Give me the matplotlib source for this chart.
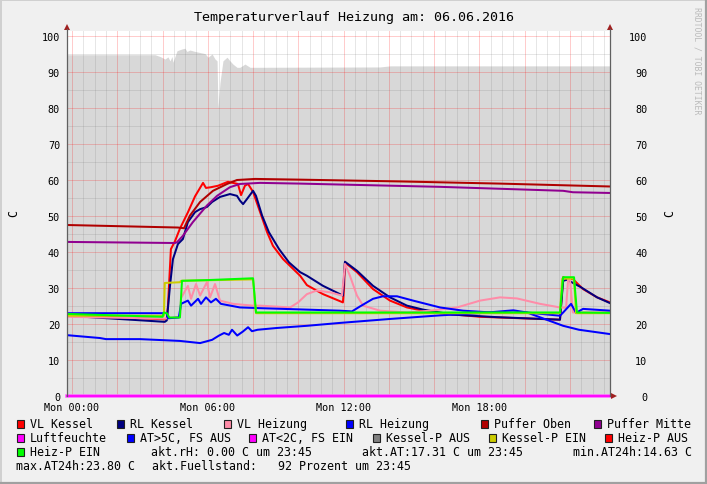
import matplotlib
matplotlib.use('Agg')
import matplotlib.pyplot as plt
from matplotlib.patches import Rectangle, Polygon
from matplotlib.lines import Line2D

# ---------------- data (hours since Mon 00:00) ----------------
title = "Temperaturverlauf Heizung am: 06.06.2016"
x_tick_pos = [0, 6, 12, 18]
x_tick_labels = ["Mon 00:00", "Mon 06:00", "Mon 12:00", "Mon 18:00"]
y_ticks = [0, 10, 20, 30, 40, 50, 60, 70, 80, 90, 100]

fuell_t = [-0.22, 3.67, 3.89, 4.11, 4.24, 4.33, 4.42, 4.46, 4.64, 4.86, 4.99, 5.08, 5.21,
           5.44, 5.66, 5.88, 6.01, 6.19, 6.32, 6.41, 6.45, 6.54, 6.67, 6.85, 6.98, 7.11,
           7.29, 7.42, 7.64, 7.87, 13.61, 14.05, 23.77]
fuell_v = [94.8, 94.8, 94.3, 93.6, 94.2, 93.1, 94.3, 92.7, 95.9, 96.4, 96.6, 95.7, 96.1,
           95.7, 95.4, 95.1, 94.1, 95.0, 93.6, 93.1, 80.0, 87.1, 93.1, 94.1, 93.1, 92.2,
           91.3, 91.3, 92.2, 91.3, 91.4, 91.7, 91.7]

vlk_t = [-0.22, 4.10, 4.19, 4.24, 4.37, 4.55, 4.77, 5.12, 5.44, 5.79, 5.92, 6.14, 6.45,
         6.89, 7.33, 7.47, 7.64, 7.78, 8.00, 8.31, 8.62, 8.88, 9.33, 9.77, 10.08, 10.38,
         11.09, 11.97, 12.02, 12.06, 12.59, 13.30, 14.05, 14.80, 15.51, 16.26, 18.03,
         21.56, 21.70, 21.87, 22.13, 22.58, 23.20, 23.77]
vlk_v = [22.5, 21.3, 21.5, 25.0, 40.8, 43.0, 46.5, 51.0, 55.5, 59.2, 57.8, 58.0, 58.4,
         59.5, 58.9, 55.8, 58.4, 58.9, 56.7, 51.1, 45.5, 41.7, 38.0, 35.3, 33.4, 30.8,
         28.3, 26.0, 30.0, 37.1, 34.4, 29.7, 26.5, 24.6, 23.7, 23.0, 22.0,
         21.2, 33.0, 32.5, 32.5, 29.7, 27.4, 26.0]

rlk_t = [-0.22, 4.10, 4.19, 4.33, 4.46, 4.68, 4.90, 5.12, 5.44, 5.66, 5.96, 6.19, 6.54,
         6.98, 7.29, 7.42, 7.56, 7.73, 8.00, 8.13, 8.40, 8.70, 9.15, 9.59, 10.08, 10.38,
         11.09, 11.97, 12.06, 12.59, 13.30, 14.05, 14.80, 15.51, 16.26, 16.80, 18.78,
         21.56, 21.70, 21.87, 22.49, 23.20, 23.77]
rlk_v = [22.3, 20.6, 21.0, 30.6, 38.0, 42.2, 43.6, 48.3, 51.1, 51.9, 52.5, 53.9, 55.3,
         56.1, 55.6, 54.3, 53.3, 54.7, 57.0, 55.6, 50.1, 45.5, 40.8, 37.1, 34.4, 33.4,
         30.6, 27.9, 37.3, 34.8, 30.6, 27.4, 25.1, 24.0, 23.2, 22.6, 21.9,
         21.2, 32.0, 32.3, 30.2, 27.4, 25.8]

vlh_t = [-0.22, 4.10, 4.77, 4.82, 5.12, 5.26, 5.48, 5.66, 5.96, 6.10, 6.32, 6.54, 7.11,
         8.00, 8.31, 9.64, 9.99, 10.38, 10.82, 11.40, 11.93, 12.06, 12.28, 12.59, 12.86,
         13.61, 14.80, 15.82, 17.01, 18.03, 18.91, 19.66, 20.68, 21.56, 21.83, 21.92,
         22.00, 22.13, 23.77]
vlh_v = [22.0, 21.5, 22.0, 27.2, 30.6, 27.0, 31.1, 27.9, 31.6, 27.4, 31.1, 26.5, 25.6,
         25.1, 25.1, 24.6, 26.0, 28.3, 29.3, 28.8, 27.9, 36.7, 33.4, 27.9, 25.1,
         23.7, 23.2, 23.7, 24.6, 26.5, 27.4, 27.1, 25.6, 24.6, 24.5, 32.5,
         32.5, 23.2, 23.3]

rlh_t = [-0.22, 4.19, 4.24, 4.72, 4.82, 5.12, 5.26, 5.57, 5.70, 5.92, 6.14, 6.36, 6.58,
         7.42, 8.31, 11.84, 12.37, 12.73, 13.30, 13.74, 14.36, 15.07, 16.26, 17.28,
         18.78, 20.10, 21.56, 21.70, 22.05, 22.27, 22.58, 23.77]
rlh_v = [23.0, 23.0, 21.6, 21.8, 25.6, 26.5, 25.1, 27.0, 25.6, 27.4, 26.0, 27.0, 25.6,
         24.6, 24.4, 23.7, 23.5, 24.9, 27.0, 27.7, 27.7, 26.5, 24.6, 23.7,
         23.1, 23.2, 22.3, 23.2, 25.6, 23.1, 24.2, 23.7]

pob_t = [-0.22, 4.68, 4.95, 5.21, 5.66, 6.23, 6.85, 7.29, 8.09, 10.07, 14.50, 18.90, 23.77]
pob_v = [47.5, 46.8, 46.6, 50.1, 53.9, 57.0, 58.9, 60.0, 60.3, 60.1, 59.6, 59.0, 58.2]

pmi_t = [-0.22, 4.55, 4.64, 4.90, 5.34, 5.96, 6.41, 6.98, 7.42, 8.31, 10.07, 16.26, 21.70,
         22.13, 23.77]
pmi_v = [42.8, 42.5, 42.7, 44.5, 48.3, 52.9, 55.6, 58.0, 58.9, 59.2, 59.0, 58.1, 57.0,
         56.6, 56.4]

rh_t = [-0.22, 23.77]
rh_v = [0.0, 0.0]

at_t = [-0.22, 1.24, 1.50, 3.00, 4.77, 5.66, 6.19, 6.50, 6.72, 6.93, 7.07, 7.30, 7.55,
        7.78, 7.95, 8.20, 9.06, 10.38, 11.84, 14.05, 16.26, 18.00, 19.50, 20.10, 21.70,
        22.40, 23.20, 23.77]
at_v = [16.9, 16.1, 15.8, 15.8, 15.3, 14.7, 15.6, 16.8, 17.5, 17.0, 18.4, 16.8, 17.9,
        19.1, 18.0, 18.4, 18.9, 19.5, 20.3, 21.4, 22.4, 23.0, 23.8, 23.2, 19.5,
        18.4, 17.7, 17.2]

kpe_t = [-0.22, 4.06, 4.10, 4.77, 4.82, 8.00, 8.13, 21.56, 21.66, 22.18, 22.27, 23.77]
kpe_v = [22.3, 22.3, 31.4, 31.6, 32.0, 32.4, 23.0, 23.0, 32.6, 32.6, 23.0, 23.0]

hpe_t = [-0.22, 4.00, 4.06, 4.19, 4.30, 4.77, 4.86, 6.00, 8.00, 8.13, 21.56, 21.70,
         22.18, 22.31, 23.77]
hpe_v = [22.8, 22.0, 23.2, 23.0, 21.8, 21.8, 32.0, 32.2, 32.7, 23.2, 23.2, 33.0,
         33.0, 23.2, 23.1]

legend_rows = [
    [("VL Kessel", "#FF0000"), ("RL Kessel", "#000080"), ("VL Heizung", "#FF8CA8"),
     ("RL Heizung", "#0000FF"), ("Puffer Oben", "#B00000"), ("Puffer Mitte", "#900090")],
    [("Luftfeuchte", "#FF00FF"), ("AT>5C, FS AUS", "#0000FF"), ("AT<2C, FS EIN", "#FF00FF"),
     ("Kessel-P AUS", "#808080"), ("Kessel-P EIN", "#CCCC00"), ("Heiz-P AUS", "#FF0000")],
]
legend_x = [[16, 116, 223, 345, 480, 593], [16, 126, 248, 372, 488, 604]]
info_row3 = [("akt.rH: 0.00 C um 23:45", 151), ("akt.AT:17.31 C um 23:45", 362),
             ("min.AT24h:14.63 C", 573)]
info_row4 = [("max.AT24h:23.80 C", 16), ("akt.Fuellstand:   92 Prozent um 23:45", 152)]

# ---------------- figure ----------------
W, H = 707, 485
MONO = 'DejaVu Sans Mono'
fig = plt.figure(figsize=(W / 100, H / 100), dpi=100, facecolor='#F0F0F0')

L, R, T, B = 67, 610, 32, 397
ax = fig.add_axes([L / W, (H - B) / H, (R - L) / W, (B - T) / H])
ax.set_facecolor('white')
ax.set_xlim(-0.22, 23.77)
ax.set_ylim(0, 101.39)

ax.fill_between(fuell_t, fuell_v, 0, color='#D8D8D8', lw=0, zorder=1)

# grid
RED_G = dict(color='#FF0000', alpha=0.2, lw=0.72, zorder=1.5, antialiased=False)
GRY_G = dict(color='#707070', alpha=0.17, lw=0.72, zorder=1.5, antialiased=False)
for i in range(-1, 49):
    xv = i * 0.5
    if xv < -0.22 or xv > 23.77:
        continue
    ax.axvline(xv, **(RED_G if i % 4 == 0 else GRY_G))
for yv in range(5, 101, 5):
    ax.axhline(yv, **(RED_G if yv % 10 == 0 else GRY_G))

lw = 1.45
series = [
    (vlk_t, vlk_v, "#FF0000"),
    (rlk_t, rlk_v, "#000080"),
    (vlh_t, vlh_v, "#FF8CA8"),
    (rlh_t, rlh_v, "#0000FF"),
    (pob_t, pob_v, "#B00000"),
    (pmi_t, pmi_v, "#900090"),
    (at_t, at_v, "#0000FF"),
    (kpe_t, kpe_v, "#CCCC00"),
    (hpe_t, hpe_v, "#00FF00"),
]
for k, (t, v, c) in enumerate(series):
    ax.plot(t, v, color=c, lw=lw, zorder=3 + k * 0.01, solid_joinstyle='round')
ax.plot(rh_t, rh_v, color='#FF66FF', lw=2.6, zorder=4, clip_on=False)
ax.plot(rh_t, rh_v, color='#FF00FF', lw=1.3, zorder=4.1, clip_on=False)

for s in ax.spines.values():
    s.set_visible(False)

ax.set_xticks(x_tick_pos)
ax.set_xticklabels(x_tick_labels, fontfamily=MONO, fontsize=7.3)
ax.set_yticks(y_ticks)
ax.set_yticklabels([str(y) for y in y_ticks], fontfamily=MONO, fontsize=7.3)
ax.tick_params(axis='x', length=0, pad=4, colors='black')
ax.tick_params(axis='y', length=0, pad=5, colors='black')

ax2 = ax.twinx()
ax2.set_ylim(ax.get_ylim())
ax2.set_yticks(y_ticks)
ax2.set_yticklabels([str(y) for y in y_ticks], fontfamily=MONO, fontsize=7.3, ha='right')
ax2.tick_params(axis='y', length=0, pad=27)
for s in ax2.spines.values():
    s.set_visible(False)

# overlay in pixel coordinates
ov = fig.add_axes([0, 0, 1, 1], facecolor='none')
ov.set_xlim(0, W)
ov.set_ylim(H, 0)
ov.axis('off')

# axis lines and arrows
ov.add_line(Line2D([L, L], [B, T - 2], color='#606060', lw=0.9))
ov.add_line(Line2D([R, R], [B, T - 2], color='#606060', lw=0.9))
for xa in (L, R):
    ov.add_patch(Polygon([[xa - 3, T - 1], [xa + 3, T - 1], [xa, T - 7]], closed=True,
                         color='#A02020', lw=0))
ov.add_patch(Polygon([[R + 1, B - 3], [R + 1, B + 3], [R + 7, B]], closed=True,
                     color='#A02020', lw=0))

# title, axis unit labels, watermark
ov.text(354, 17, title, ha='center', va='center', fontfamily=MONO, fontsize=9.6)
ov.text(14, 214, "C", ha='center', va='center', rotation=90, fontfamily=MONO, fontsize=8.4)
ov.text(670, 214, "C", ha='center', va='center', rotation=90, fontfamily=MONO, fontsize=8.4)
ov.text(697, 7, "RRDTOOL / TOBI OETIKER", ha='center', va='top', rotation=-90,
        fontfamily=MONO, fontsize=5.9, color='#BBBBBB')

# legend
row_y = [425, 439, 453, 467]
for r, row in enumerate(legend_rows):
    for (lab, col), xb in zip(row, legend_x[r]):
        ov.add_patch(Rectangle((xb + 0.5, row_y[r] - 4), 7.5, 7.5, facecolor=col,
                               edgecolor='#202020', lw=0.8))
        ov.text(xb + 14, row_y[r], lab, ha='left', va='center', fontfamily=MONO,
                fontsize=8.4)
ov.add_patch(Rectangle((16.5, row_y[2] - 4), 7.5, 7.5, facecolor='#00FF00',
                       edgecolor='#202020', lw=0.8))
ov.text(30, row_y[2], "Heiz-P EIN", ha='left', va='center', fontfamily=MONO, fontsize=8.4)
for lab, xt in info_row3:
    ov.text(xt, row_y[2], lab, ha='left', va='center', fontfamily=MONO, fontsize=8.4)
for lab, xt in info_row4:
    ov.text(xt, row_y[3], lab, ha='left', va='center', fontfamily=MONO, fontsize=8.4)

# frame
ov.add_line(Line2D([0, W], [0.7, 0.7], color='#D0D0D0', lw=1.4))
ov.add_line(Line2D([0.7, 0.7], [0, H], color='#D0D0D0', lw=1.4))
ov.add_line(Line2D([0, W], [H - 0.8, H - 0.8], color='#A0A0A0', lw=1.6))
ov.add_line(Line2D([W - 0.8, W - 0.8], [0, H], color='#A0A0A0', lw=1.6))

fig.savefig('out.png', dpi=100, facecolor=fig.get_facecolor())
